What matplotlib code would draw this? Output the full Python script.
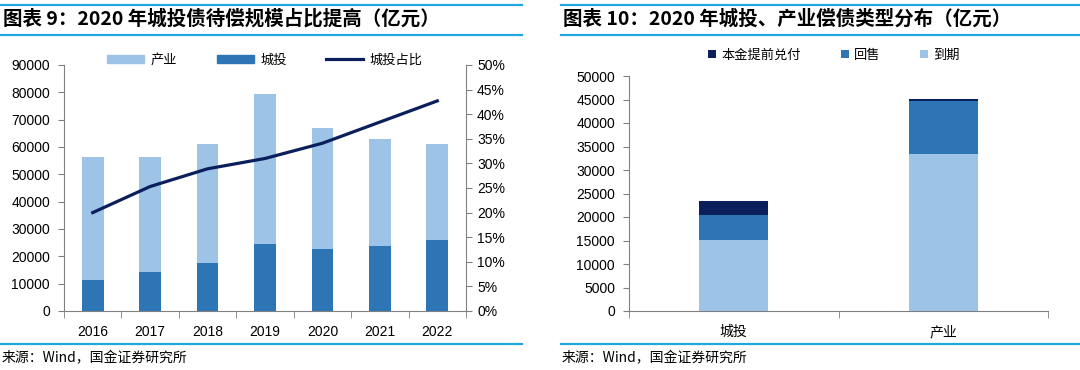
import matplotlib.pyplot as plt
import matplotlib.ticker as mticker
from matplotlib.lines import Line2D
from matplotlib.patches import Patch
import numpy as np

plt.rcParams['font.family'] = ['Liberation Sans', 'Noto Sans CJK SC', 'DejaVu Sans']

# left chart data (亿元)
years = ['2016', '2017', '2018', '2019', '2020', '2021', '2022']
chengtou = [11300, 14400, 17700, 24600, 22800, 23900, 26100]
total = [56300, 56300, 61100, 79400, 67100, 62900, 61100]
chanye = [t - c for t, c in zip(total, chengtou)]
ratio = [20.0, 25.3, 28.9, 31.0, 34.1, 38.4, 42.7]

# right chart data (亿元)
cats = ['城投', '产业']
daoqi = [15100, 33500]
huishou = [5400, 11200]
tiqian = [2800, 300]

c_light = '#9DC3E6'
c_mid = '#2E75B6'
c_dark = '#0B1F5C'
c_rule = '#1EA7E1'
c_spine = '#808080'
cjk = ['Noto Sans CJK SC', 'DejaVu Sans']

fig = plt.figure(figsize=(10.8, 3.7), dpi=100)

def px(x, y):
    return x / 1080, 1 - y / 370

# frame rules and titles
for x0, x1 in [(0, 522), (561, 1080)]:
    for y in [5, 35, 344]:
        fig.add_artist(Line2D([x0 / 1080, x1 / 1080], [1 - y / 370] * 2,
                              color=c_rule, lw=1.6))

fig.text(*px(3, 19), '图表 9：2020 年城投债待偿规模占比提高（亿元）', fontsize=14,
         fontweight='bold', family=cjk, va='center', ha='left')
fig.text(*px(563, 19), '图表 10：2020 年城投、产业偿债类型分布（亿元）', fontsize=14,
         fontweight='bold', family=cjk, va='center', ha='left')
fig.text(*px(2, 358), '来源：Wind，国金证券研究所', fontsize=10, family=cjk,
         va='center', ha='left')
fig.text(*px(562, 358), '来源：Wind，国金证券研究所', fontsize=10, family=cjk,
         va='center', ha='left')

# ---- left chart
ax = fig.add_axes([64 / 1080, 1 - 311 / 370, 402 / 1080, 246 / 370])
x = np.arange(len(years))
ax.bar(x, chengtou, width=0.38, color=c_mid, zorder=2)
ax.bar(x, chanye, width=0.38, bottom=chengtou, color=c_light, zorder=2)
ax.set_xlim(-0.5, len(years) - 0.5)
ax.set_ylim(0, 90000)
ax.yaxis.set_major_locator(mticker.MultipleLocator(10000))
ax.set_xticks(x)
ax.set_xticklabels(years)
ax.set_xticks(np.arange(-0.5, len(years), 1), minor=True)
ax.tick_params(axis='x', which='major', length=0, pad=10, labelsize=10)
ax.tick_params(axis='x', which='minor', length=5, direction='out', color=c_spine)
ax.tick_params(axis='y', length=4, direction='out', color=c_spine, labelsize=10, pad=6)
for s in ['top', 'right']:
    ax.spines[s].set_visible(False)
for s in ['left', 'bottom']:
    ax.spines[s].set_color(c_spine)

ax2 = ax.twinx()
ax2.plot(x, ratio, color=c_dark, lw=2.3, zorder=3)
ax2.set_ylim(0, 50)
ax2.yaxis.set_major_locator(mticker.MultipleLocator(5))
ax2.yaxis.set_major_formatter(mticker.FuncFormatter(lambda v, p: '%d%%' % v))
ax2.tick_params(axis='y', length=4, direction='out', color=c_spine, labelsize=10, pad=4)
for s in ['top', 'left', 'bottom']:
    ax2.spines[s].set_visible(False)
ax2.spines['right'].set_color(c_spine)

handles = [Patch(color=c_light, label='产业'), Patch(color=c_mid, label='城投'),
           Line2D([0], [0], color=c_dark, lw=2.3, label='城投占比')]
fig.legend(handles=handles, loc='center', bbox_to_anchor=(265 / 1080, 1 - 60 / 370),
           ncol=3, frameon=False, prop={'family': cjk, 'size': 9.5},
           handlelength=2.8, handleheight=0.6, columnspacing=3.0, handletextpad=0.5)

# ---- right chart
bx = fig.add_axes([629 / 1080, 1 - 311 / 370, 419 / 1080, 235 / 370])
xr = np.arange(len(cats))
bx.bar(xr, daoqi, width=0.33, color=c_light, label='到期')
bx.bar(xr, huishou, width=0.33, bottom=daoqi, color=c_mid, label='回售')
bx.bar(xr, tiqian, width=0.33, bottom=np.add(daoqi, huishou), color=c_dark,
       label='本金提前兑付')
bx.set_xlim(-0.5, len(cats) - 0.5)
bx.set_ylim(0, 50000)
bx.yaxis.set_major_locator(mticker.MultipleLocator(5000))
bx.set_xticks(xr)
bx.set_xticklabels(cats, family=cjk)
bx.set_xticks(np.arange(-0.5, len(cats), 1), minor=True)
bx.tick_params(axis='x', which='major', length=0, pad=10, labelsize=10)
bx.tick_params(axis='x', which='minor', length=5, direction='out', color=c_spine)
bx.tick_params(axis='y', length=4, direction='out', color=c_spine, labelsize=10, pad=6)
for s in ['top', 'right']:
    bx.spines[s].set_visible(False)
for s in ['left', 'bottom']:
    bx.spines[s].set_color(c_spine)

h, l = bx.get_legend_handles_labels()
fig.legend(h[::-1], l[::-1], loc='center', bbox_to_anchor=(834 / 1080, 1 - 55 / 370),
           ncol=3, frameon=False, prop={'family': cjk, 'size': 9.5},
           handlelength=0.6, handleheight=0.6, columnspacing=3.0, handletextpad=0.4)

fig.savefig('out.png', dpi=100)
